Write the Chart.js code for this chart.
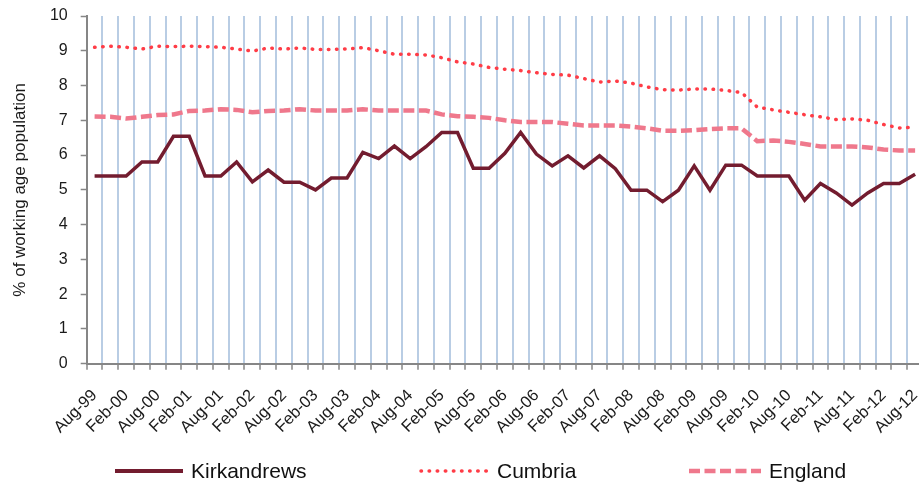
<!DOCTYPE html>
<html>
<head>
<meta charset="utf-8">
<script src="https://cdn.jsdelivr.net/npm/chart.js@4"></script>
<style>
    html, body { margin: 0; padding: 0; background: #fff; overflow: hidden; }
    #wrap { position: relative; width: 923px; height: 486px; }
    #legend { position: absolute; left: 0; top: 457px; height: 28px; display: flex; align-items: center;
              font-family: "Liberation Sans", Arial, sans-serif; font-size: 21px; color: #111; }
    .item { display: flex; align-items: center; }
    .item svg { margin-right: 8px; }
</style>
</head>
<body>
<div id="wrap">
    <canvas id="line_chart"></canvas>
    <div id="legend">
        <div class="item" style="margin-left: 115px; width: 304px;">
            <svg width="68" height="8"><line x1="0" y1="4" x2="68" y2="4" stroke="#731c2f" stroke-width="4"/></svg>Kirkandrews
        </div>
        <div class="item" style="width: 270px;">
            <svg width="70" height="8"><line x1="2" y1="4" x2="68" y2="4" stroke="#ff3c46" stroke-width="3.5" stroke-linecap="round" stroke-dasharray="0.5 7.6"/></svg>Cumbria
        </div>
        <div class="item">
            <svg width="72" height="8"><line x1="0" y1="4" x2="72" y2="4" stroke="#ef788c" stroke-width="4.5" stroke-dasharray="11 4.5"/></svg>England
        </div>
    </div>
</div>
<script>
// quarterly points, Aug-99 .. Aug-12
const quarters = [
    'Aug-99', 'Nov-99', 'Feb-00', 'May-00', 'Aug-00', 'Nov-00', 'Feb-01', 'May-01',
    'Aug-01', 'Nov-01', 'Feb-02', 'May-02', 'Aug-02', 'Nov-02', 'Feb-03', 'May-03',
    'Aug-03', 'Nov-03', 'Feb-04', 'May-04', 'Aug-04', 'Nov-04', 'Feb-05', 'May-05',
    'Aug-05', 'Nov-05', 'Feb-06', 'May-06', 'Aug-06', 'Nov-06', 'Feb-07', 'May-07',
    'Aug-07', 'Nov-07', 'Feb-08', 'May-08', 'Aug-08', 'Nov-08', 'Feb-09', 'May-09',
    'Aug-09', 'Nov-09', 'Feb-10', 'May-10', 'Aug-10', 'Nov-10', 'Feb-11', 'May-11',
    'Aug-11', 'Nov-11', 'Feb-12', 'May-12', 'Aug-12'
];

const kirkandrews = [
    5.40, 5.40, 5.40, 5.80, 5.80, 6.54, 6.54, 5.40, 5.40, 5.80,
    5.23, 5.57, 5.22, 5.22, 5.00, 5.34, 5.34, 6.08, 5.90, 6.26,
    5.90, 6.24, 6.65, 6.65, 5.62, 5.62, 6.05, 6.65, 6.03, 5.69,
    5.98, 5.63, 5.98, 5.61, 4.99, 4.99, 4.66, 4.99, 5.69, 4.99,
    5.71, 5.71, 5.40, 5.40, 5.40, 4.70, 5.18, 4.91, 4.56, 4.91,
    5.18, 5.18, 5.45
];

const cumbria = [
    9.10, 9.13, 9.10, 9.05, 9.13, 9.12, 9.13, 9.12, 9.10, 9.05,
    8.99, 9.08, 9.05, 9.08, 9.04, 9.04, 9.05, 9.09, 9.00, 8.90,
    8.90, 8.88, 8.80, 8.68, 8.62, 8.52, 8.47, 8.43, 8.37, 8.32,
    8.30, 8.20, 8.10, 8.13, 8.07, 7.96, 7.88, 7.87, 7.90, 7.90,
    7.86, 7.80, 7.38, 7.30, 7.23, 7.16, 7.10, 7.02, 7.04, 7.00,
    6.88, 6.78, 6.80
];

const england = [
    7.11, 7.10, 7.05, 7.10, 7.15, 7.17, 7.27, 7.28, 7.32, 7.30,
    7.23, 7.27, 7.28, 7.32, 7.28, 7.28, 7.28, 7.32, 7.28, 7.28,
    7.28, 7.28, 7.17, 7.12, 7.10, 7.07, 7.00, 6.95, 6.95, 6.95,
    6.90, 6.85, 6.85, 6.85, 6.82, 6.77, 6.70, 6.70, 6.72, 6.75,
    6.77, 6.77, 6.40, 6.42, 6.38, 6.32, 6.25, 6.25, 6.25, 6.22,
    6.16, 6.13, 6.13
];

const yTicks = [0, 1, 2, 3, 4, 5, 6, 7, 8, 9, 10];

const axisGrey = '#868686';
const textColor = '#1a1a1a';
const fontFamily = '"Liberation Sans", Arial, sans-serif';

const ctx = document.getElementById('line_chart').getContext('2d');
const lineChart = new Chart(ctx, {
    type: 'line',
    data: {
        labels: quarters,
        datasets: [{
            label: 'Kirkandrews',
            data: kirkandrews,
            borderColor: '#731c2f',
            borderWidth: 3.5,
            borderJoinStyle: 'miter',
            pointRadius: 0,
            tension: 0
        }, {
            label: 'Cumbria',
            data: cumbria,
            borderColor: '#ff3c46',
            borderWidth: 3.5,
            borderDash: [0.5, 7.6],
            borderCapStyle: 'round',
            pointRadius: 0,
            tension: 0
        }, {
            label: 'England',
            data: england,
            borderColor: '#ef788c',
            borderWidth: 4.5,
            borderDash: [11, 4.5],
            pointRadius: 0,
            tension: 0
        }]
    },
    options: {
        responsive: true,
        maintainAspectRatio: false,
        animation: false,
        layout: {
            padding: { top: 16, left: 0, right: 0, bottom: 0 }
        },
        plugins: {
            legend: { display: false },
            tooltip: { enabled: false }
        },
        scales: {
            x: {
                offset: true,
                grid: {
                    offset: true,
                    color: '#b9cde4',
                    lineWidth: 2,
                    tickColor: axisGrey,
                    tickWidth: 1.5,
                    tickLength: 6
                },
                border: { color: axisGrey, width: 2 },
                ticks: {
                    autoSkip: false,
                    maxRotation: 45,
                    minRotation: 45,
                    padding: 16,
                    color: textColor,
                    font: { family: fontFamily, size: 16.5 },
                    callback: function (value, index) {
                        return index % 2 === 0 ? quarters[index] : '';
                    }
                },
                afterFit: function (scale) {
                    scale.height = 122.3;
                    scale.paddingLeft = 0;
                    scale.paddingRight = 0;
                }
            },
            y: {
                min: 0,
                max: 10,
                afterBuildTicks: function (scale) {
                    scale.ticks = yTicks.map(v => ({ value: v }));
                },
                grid: {
                    drawOnChartArea: false,
                    tickColor: axisGrey,
                    tickWidth: 1.5,
                    tickLength: 6
                },
                border: { color: axisGrey, width: 2 },
                ticks: {
                    padding: 13,
                    color: textColor,
                    font: { family: fontFamily, size: 16 }
                },
                title: {
                    display: true,
                    text: '% of working age population',
                    color: textColor,
                    font: { family: fontFamily, size: 17 },
                    padding: { top: 10, bottom: 0 }
                },
                afterFit: function (scale) {
                    scale.width = 86.7;
                    scale.paddingTop = 0;
                    scale.paddingBottom = 0;
                }
            }
        }
    }
});
</script>
</body>
</html>
